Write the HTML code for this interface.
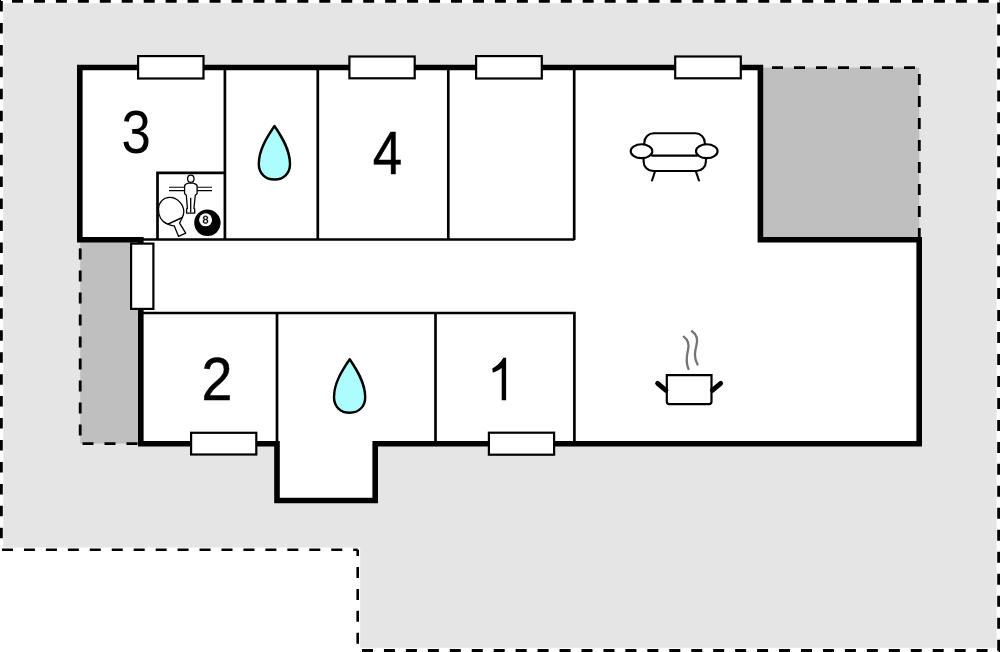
<!DOCTYPE html>
<html>
<head>
<meta charset="utf-8">
<style>
html,body{margin:0;padding:0;background:#fff;overflow:hidden;}
svg{display:block;}
text{font-family:"Liberation Sans", sans-serif;}
</style>
</head>
<body>
<svg width="1000" height="652" viewBox="0 0 1000 652">
<!-- light gray plot -->
<path d="M3.3 3.3 H996.6 V647.8 H360.2 V547.4 H3.3 Z" fill="#e5e5e5"/>
<!-- dark gray terraces -->
<rect x="760" y="67.6" width="159.3" height="172" fill="#bfbfbf"/>
<rect x="80.2" y="240" width="60.6" height="203.6" fill="#bfbfbf"/>

<!-- outer plot dashes -->
<g stroke="#000" stroke-width="2.6" fill="none">
  <line x1="0" y1="1.4" x2="1000" y2="1.4" stroke-width="2.8" stroke-dasharray="11 10.95" stroke-dashoffset="9.95"/>
  <line x1="1.4" y1="0" x2="1.4" y2="549.7" stroke-width="2.8" stroke-dasharray="10.5 11.45" stroke-dashoffset="-1"/>
  <line x1="998.6" y1="0" x2="998.6" y2="652" stroke-width="2.8" stroke-dasharray="11 10.97" stroke-dashoffset="-2.5"/>
  <line x1="0" y1="549.7" x2="357.7" y2="549.7" stroke-dasharray="11 10.95" stroke-dashoffset="-2"/>
  <line x1="357.7" y1="549.7" x2="357.7" y2="652" stroke-dasharray="11 10.95" stroke-dashoffset="4.7"/>
  <line x1="357.7" y1="650.6" x2="1000" y2="650.6" stroke-width="3" stroke-dasharray="11 10.95" stroke-dashoffset="-4.3"/>
</g>
<!-- terrace dashes -->
<g stroke="#000" stroke-width="2.8" fill="none">
  <line x1="760" y1="67.6" x2="919.3" y2="67.6" stroke-dasharray="11 11" stroke-dashoffset="-12"/>
  <line x1="919.3" y1="67.6" x2="919.3" y2="240" stroke-dasharray="11 11" stroke-dashoffset="-6.4"/>
  <line x1="80.2" y1="240" x2="80.2" y2="443.6" stroke-dasharray="11 11" stroke-dashoffset="-8.4"/>
  <line x1="80.2" y1="443.6" x2="141" y2="443.6" stroke-dasharray="11 11" stroke-dashoffset="-2.3"/>
</g>

<!-- building interior -->
<path d="M79.8 67.5 H760.4 V239.7 H919.2 V443.8 H375.2 V500.5 H277 V443.8 H140.8 V239.8 H79.8 Z" fill="#fff"/>

<!-- interior walls -->
<g stroke="#000" stroke-width="2.7" fill="none">
  <line x1="224.9" y1="68" x2="224.9" y2="240"/>
  <line x1="317.8" y1="68" x2="317.8" y2="240"/>
  <line x1="448.3" y1="68" x2="448.3" y2="240"/>
  <line x1="574.2" y1="68" x2="574.2" y2="240"/>
  <path d="M141 239.5 H574.3 V239.5"/>
  <path d="M141 313 H574.4 V444"/>
  <line x1="277" y1="313" x2="277" y2="444"/>
  <line x1="435.5" y1="313" x2="435.5" y2="444"/>
  <path d="M157.5 239 V172.8 H225"/>
</g>

<!-- exterior walls -->
<path d="M79.8 67.5 H760.4 V239.7 H919.2 V443.8 H375.2 V500.5 H277 V443.8 H140.8 V239.8 H79.8 Z" fill="none" stroke="#000" stroke-width="5.6" stroke-linejoin="miter"/>

<!-- windows -->
<g fill="#fff" stroke="#000" stroke-width="2.2">
  <rect x="138.1" y="56.1" width="65.4" height="22.4"/>
  <rect x="349.4" y="56.5" width="65.3" height="21.8"/>
  <rect x="476.1" y="56.1" width="65.7" height="22.4"/>
  <rect x="675.2" y="56.5" width="65.6" height="21.8"/>
  <rect x="131.1" y="243.6" width="22.3" height="65.3"/>
  <rect x="191.1" y="432.8" width="65.2" height="21.7"/>
  <rect x="488.9" y="432.7" width="65.2" height="22"/>
</g>

<!-- room numbers -->
<g font-size="62" fill="#000">
  <text transform="translate(121.6 153.2) scale(0.85 1)">3</text>
</g>
<g font-size="61.8" fill="#000" stroke="#000" stroke-width="0.5">
  <text transform="translate(372.7 173.5) scale(0.855 1)">4</text>
  <text transform="translate(201.6 400.2) scale(0.9 1)">2</text>
</g>
<path d="M506.1 357.8 V400.2 H501.7 V368 C499 370 496 371.5 492.8 372.8 L492.3 368.6 C496.5 366.3 500.5 362.8 503.3 357.8 Z" fill="#000"/>

<!-- water drops -->
<path d="M274.5 126 C267 137, 258.8 150, 258.8 164 C258.8 173.5, 265.5 179.5, 274.5 179.5 C283.5 179.5, 290 173.5, 290 164 C290 150, 282 137, 274.5 126 Z" fill="#aefdfd" stroke="#000" stroke-width="2.4" stroke-linejoin="round"/>
<path d="M274.5 126 C267 137, 258.8 150, 258.8 164 C258.8 173.5, 265.5 179.5, 274.5 179.5 C283.5 179.5, 290 173.5, 290 164 C290 150, 282 137, 274.5 126 Z" fill="#aefdfd" stroke="#000" stroke-width="2.4" stroke-linejoin="round" transform="translate(75.2 233.2)"/>

<!-- sofa -->
<g fill="none" stroke="#000" stroke-width="2.1" stroke-linecap="round">
  <path d="M644.3 144 V142.8 A9.5 9.5 0 0 1 653.8 133.3 H695.3 A9.5 9.5 0 0 1 704.8 142.8 V144"/>
  <line x1="652" y1="155.6" x2="697" y2="155.6"/>
  <ellipse cx="641.5" cy="151.2" rx="10.8" ry="6.9" fill="#fff"/>
  <ellipse cx="706.8" cy="151.2" rx="10.8" ry="6.9" fill="#fff"/>
  <path d="M643.6 158.5 V161.5 A9.5 9.5 0 0 0 653.1 171 H696.4 A9.5 9.5 0 0 0 705.9 161.5 V158.5"/>
  <line x1="655" y1="171.5" x2="652" y2="180.5"/>
  <line x1="695.9" y1="171.5" x2="699" y2="180.5"/>
</g>

<!-- pot -->
<g>
  <path d="M666.8 375.1 H711.5 V401.5 Q711.5 404.2 708.8 404.2 H669.5 Q666.8 404.2 666.8 401.5 Z" fill="#fff" stroke="#000" stroke-width="2.2"/>
  <line x1="657.6" y1="383.3" x2="666" y2="390.3" stroke="#000" stroke-width="4.8" stroke-linecap="round"/>
  <line x1="720.7" y1="383.3" x2="712.3" y2="390.3" stroke="#000" stroke-width="4.8" stroke-linecap="round"/>
  <path d="M683.7 336.7 C688 340, 689.5 344, 688 350 C686.5 356, 685.5 362, 688.5 369" fill="none" stroke="#747474" stroke-width="2.3" stroke-linecap="round"/>
  <path d="M692 331.2 C696 334, 698 339, 696.5 345 C695 351, 693.5 357, 697.5 364.5" fill="none" stroke="#747474" stroke-width="2.3" stroke-linecap="round"/>
</g>

<!-- games box icons -->
<g>
  <!-- foosball rods -->
  <g stroke="#000" stroke-width="1.1">
    <line x1="169" y1="187.2" x2="212" y2="187.2"/>
    <line x1="169" y1="190.6" x2="212" y2="190.6"/>
  </g>
  <!-- foosball figure -->
  <path d="M188.6 183.1 Q185.2 183.8 184.6 185.8 L184.6 193.6 L186.3 195.3 L187.4 208.5 L186.6 208.8 L186.6 213.2 L194.7 213.2 L194.7 208.8 L193.9 208.5 L195.3 195.3 L197.1 193.6 L197.1 185.8 Q196.5 183.8 193 183.1 Z" fill="#fff" stroke="#000" stroke-width="1.3" stroke-linejoin="round"/>
  <ellipse cx="190.8" cy="178.8" rx="3.2" ry="3.6" fill="#fff" stroke="#000" stroke-width="1.3"/>
  <line x1="190.7" y1="197.7" x2="190.7" y2="212.5" stroke="#000" stroke-width="1.3"/>
  <!-- paddle -->
  <path d="M167.8 224.1 Q171 225.6 174.2 225.8 L178.6 236.4 L185.7 233.2 L179.6 223.1 Q180.9 220.5 182.4 217.3 Z" fill="#fff" stroke="#000" stroke-width="1.3" stroke-linejoin="round"/>
  <path d="M167.8 224.1 C161 221.5 158.3 215 158.5 209 C158.8 202 163.5 197.5 169.5 197.4 C177 197.3 183.6 204 183.8 211.5 C183.8 213.5 183.3 215.5 182.4 217.3 Z" fill="#fff" stroke="#000" stroke-width="1.3" stroke-linejoin="round"/>
  <!-- 8 ball -->
  <circle cx="207.4" cy="222.8" r="13.2" fill="#000"/>
  <circle cx="205.6" cy="219.8" r="6.5" fill="#fff"/>
  <path d="M208.04 221.33Q208.04 222.36 207.38 222.93Q206.73 223.51 205.51 223.51Q204.31 223.51 203.64 222.94Q202.97 222.38 202.97 221.34Q202.97 220.61 203.39 220.11Q203.8 219.62 204.45 219.51V219.49Q203.84 219.35 203.49 218.88Q203.14 218.4 203.14 217.76Q203.14 216.91 203.78 216.39Q204.41 215.86 205.48 215.86Q206.58 215.86 207.22 216.38Q207.85 216.89 207.85 217.77Q207.85 218.41 207.5 218.89Q207.15 219.36 206.53 219.48V219.5Q207.25 219.62 207.64 220.11Q208.04 220.59 208.04 221.33ZM206.87 217.83Q206.87 216.57 205.48 216.57Q204.82 216.57 204.46 216.88Q204.11 217.2 204.11 217.83Q204.11 218.46 204.47 218.8Q204.84 219.13 205.5 219.13Q206.17 219.13 206.52 218.83Q206.87 218.52 206.87 217.83ZM207.05 221.24Q207.05 220.55 206.64 220.2Q206.23 219.85 205.48 219.85Q204.76 219.85 204.36 220.22Q203.95 220.6 203.95 221.26Q203.95 222.79 205.52 222.79Q206.29 222.79 206.67 222.42Q207.05 222.05 207.05 221.24Z" fill="#000" stroke="#000" stroke-width="0.4"/>
</g>
</svg>
</body>
</html>
